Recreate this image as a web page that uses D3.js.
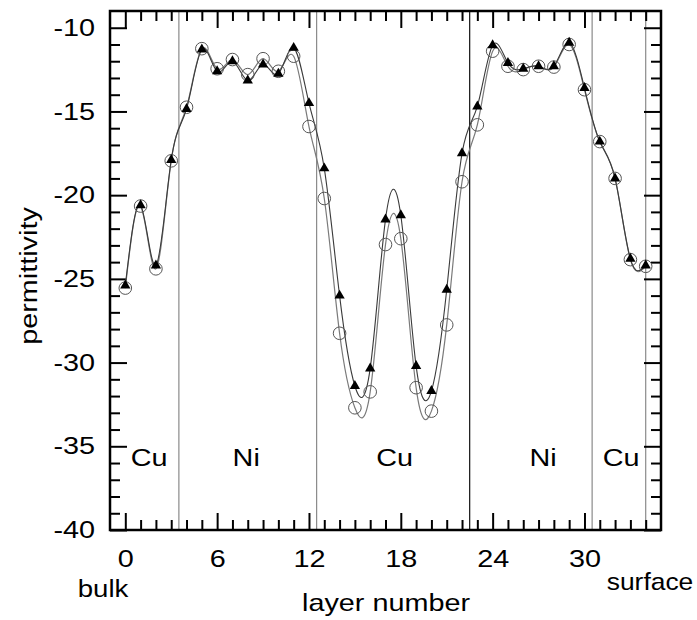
<!DOCTYPE html>
<html>
<head>
<meta charset="utf-8">
<script src="https://cdn.jsdelivr.net/npm/d3@7"></script>
<style>
  body { margin: 0; background: white; }
  text { font-family: "Liberation Sans", Arial, sans-serif; }
</style>
</head>
<body>
<div id="chart-area"></div>
<script>
// layer index and the two permittivity series
var layers = [0, 1, 2, 3, 4, 5, 6, 7, 8, 9, 10, 11, 12, 13, 14, 15, 16, 17,
  18, 19, 20, 21, 22, 23, 24, 25, 26, 27, 28, 29, 30, 31, 32, 33, 34];
var triangles = [-25.4, -20.6, -24.2, -17.9, -14.85, -11.3, -12.6, -12.0, -13.15,
  -12.2, -12.75, -11.2, -14.5, -18.4, -26.0, -31.4, -30.35, -21.45, -21.2, -30.2,
  -31.7, -25.65, -17.5, -14.7, -11.05, -12.1, -12.45, -12.3, -12.3, -10.9, -13.6,
  -16.8, -19.0, -23.8, -24.2];
var circles = [-25.55, -20.65, -24.4, -17.95, -14.75, -11.25, -12.45, -11.9, -12.8,
  -11.85, -12.6, -11.7, -15.9, -20.2, -28.25, -32.7, -31.75, -22.95, -22.6, -31.5,
  -32.9, -27.75, -19.2, -15.8, -11.4, -12.3, -12.5, -12.3, -12.35, -11.0, -13.7,
  -16.8, -19.0, -23.85, -24.25];

var boundaries = [3.5, 12.5, 22.5, 30.5, 34];
var regionNames = ["Cu", "Ni", "Cu", "Ni", "Cu"];
var regionCenters = [1.55, 7.9, 17.6, 27.3, 32.4];

var xMajor = [0, 6, 12, 18, 24, 30];
var yMajor = [-40, -35, -30, -25, -20, -15, -10];

var margin = {top: 11, right: 36, bottom: 90, left: 110};
var W = 697, H = 620;
var width = W - margin.left - margin.right;
var height = H - margin.top - margin.bottom;

var svg = d3.select("#chart-area").append("svg")
  .attr("width", W).attr("height", H);
var g = svg.append("g")
  .attr("transform", "translate(" + margin.left + "," + margin.top + ")");

var x = d3.scaleLinear().domain([-1, 35]).range([0, width]);
var y = d3.scaleLinear().domain([-40, -9]).range([height, 0]);

var xMinor = d3.range(0, 35).filter(function(d) { return xMajor.indexOf(d) < 0; });
var yMinor = d3.range(-39, -9).filter(function(d) { return yMajor.indexOf(d) < 0; });

// region boundaries
g.selectAll(".bound").data(boundaries).enter().append("line")
  .attr("x1", function(d) { return x(d); })
  .attr("x2", function(d) { return x(d); })
  .attr("y1", 0).attr("y2", height)
  .attr("stroke", function(d) { return d === 22.5 ? "#111" : "#8a8a8a"; })
  .attr("stroke-width", 1.2);

g.selectAll(".region").data(regionNames).enter().append("text")
  .attr("transform", function(d, i) {
    return "translate(" + x(regionCenters[i]) + "," + y(-36.2) + ") scale(1.2,1)";
  })
  .attr("text-anchor", "middle")
  .attr("font-size", "24px")
  .text(function(d) { return d; });

// axes, all ticks inward
function styleAxis(sel) {
  sel.select(".domain").remove();
  sel.selectAll("line").attr("stroke", "#000").attr("stroke-width", 2);
}
var plain = function(d) { return String(d); };

g.append("g").attr("transform", "translate(0," + height + ")")
  .call(d3.axisBottom(x).tickValues(xMinor).tickSize(-10).tickFormat(""))
  .call(styleAxis);
var bx = g.append("g").attr("transform", "translate(0," + height + ")")
  .call(d3.axisBottom(x).tickValues(xMajor).tickSize(-17).tickPadding(20).tickFormat(plain))
  .call(styleAxis);
bx.selectAll("text").attr("font-size", "24px").attr("fill", "#000")
  .attr("transform", "scale(1.2,1)");

g.append("g")
  .call(d3.axisTop(x).tickValues(xMinor).tickSize(-10).tickFormat(""))
  .call(styleAxis);
g.append("g")
  .call(d3.axisTop(x).tickValues(xMajor).tickSize(-17).tickFormat(""))
  .call(styleAxis);

g.append("g")
  .call(d3.axisLeft(y).tickValues(yMinor).tickSize(-10).tickFormat(""))
  .call(styleAxis);
var ly = g.append("g")
  .call(d3.axisLeft(y).tickValues(yMajor).tickSize(-17).tickPadding(12.5).tickFormat(plain))
  .call(styleAxis);
ly.selectAll("text").attr("font-size", "24px").attr("fill", "#000")
  .attr("transform", "scale(1.2,1)");

g.append("g").attr("transform", "translate(" + width + ",0)")
  .call(d3.axisRight(y).tickValues(yMinor).tickSize(-10).tickFormat(""))
  .call(styleAxis);
g.append("g").attr("transform", "translate(" + width + ",0)")
  .call(d3.axisRight(y).tickValues(yMajor).tickSize(-17).tickFormat(""))
  .call(styleAxis);

g.append("rect")
  .attr("width", width).attr("height", height)
  .attr("fill", "none").attr("stroke", "#000").attr("stroke-width", 2.5);

// curves
var line = d3.line()
  .x(function(d) { return x(d[0]); })
  .y(function(d) { return y(d[1]); })
  .curve(d3.curveNatural);

var circData = layers.map(function(l, i) { return [l, circles[i]]; });
var triData = layers.map(function(l, i) { return [l, triangles[i]]; });

g.append("path").datum(circData)
  .attr("d", line).attr("fill", "none")
  .attr("stroke", "#7a7a7a").attr("stroke-width", 1.2);
g.append("path").datum(triData)
  .attr("d", line).attr("fill", "none")
  .attr("stroke", "#3a3a3a").attr("stroke-width", 1.1);

g.selectAll(".circ").data(circData).enter().append("circle")
  .attr("cx", function(d) { return x(d[0]); })
  .attr("cy", function(d) { return y(d[1]); })
  .attr("r", 6.3)
  .attr("fill", "none").attr("stroke", "#555").attr("stroke-width", 1);

var tri = d3.symbol().type(d3.symbolTriangle).size(46);
g.selectAll(".tri").data(triData).enter().append("path")
  .attr("d", tri)
  .attr("transform", function(d) {
    return "translate(" + x(d[0]) + "," + y(d[1]) + ")";
  })
  .attr("fill", "#000");

// labels
svg.append("text")
  .attr("transform", "translate(386,611) scale(1.2,1)")
  .attr("text-anchor", "middle").attr("font-size", "24px")
  .text("layer number");
svg.append("text")
  .attr("transform", "translate(103,597) scale(1.15,1)")
  .attr("text-anchor", "middle").attr("font-size", "24px")
  .text("bulk");
svg.append("text")
  .attr("transform", "translate(650,590) scale(1.1,1)")
  .attr("text-anchor", "middle").attr("font-size", "24px")
  .text("surface");
svg.append("text")
  .attr("transform", "translate(37,276) rotate(-90) scale(1.2,1)")
  .attr("text-anchor", "middle").attr("font-size", "24px")
  .text("permittivity");
</script>
</body>
</html>
